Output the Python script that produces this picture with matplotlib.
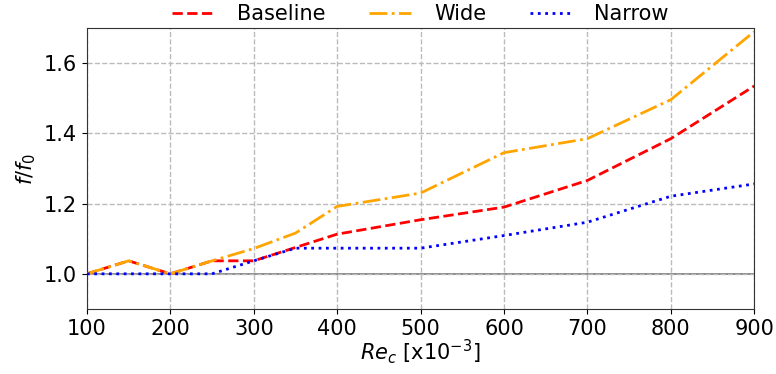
import matplotlib
matplotlib.use('Agg')
import matplotlib.pyplot as plt

plt.rcParams['font.family'] = ['DejaVu Sans']

# Data
re_c = [100, 150, 200, 250, 300, 350, 400, 500, 600, 700, 800, 900]
baseline = [1.0, 1.037, 1.0, 1.037, 1.037, 1.075, 1.113, 1.154, 1.19, 1.266, 1.385, 1.535]
wide = [1.0, 1.037, 1.0, 1.037, 1.072, 1.116, 1.192, 1.23, 1.345, 1.385, 1.496, 1.69]
narrow = [1.0, 1.0, 1.0, 1.0, 1.037, 1.073, 1.073, 1.073, 1.109, 1.147, 1.221, 1.256]

fig, ax = plt.subplots(figsize=(7.76, 3.74), dpi=100)

ax.axhline(1.0, color='gray', lw=1.3, zorder=1)
ax.plot(re_c, baseline, color='red', ls='--', lw=2, label='Baseline', zorder=3)
ax.plot(re_c, wide, color='orange', ls='-.', lw=2, label='Wide', zorder=3)
ax.plot(re_c, narrow, color='blue', ls=':', lw=2, label='Narrow', zorder=3)

ax.set_xlim(100, 900)
ax.set_ylim(0.9, 1.7)
ax.set_xticks(range(100, 901, 100))
ax.set_yticks([1.0, 1.2, 1.4, 1.6])
ax.grid(True, ls='--', color='#bbbbbb', lw=1)
ax.tick_params(labelsize=15)
for s in ax.spines.values():
    s.set_color('#333333')

ax.set_xlabel(r'$Re_c$ [x10$^{-3}$]', fontsize=15, labelpad=-1)
ax.set_ylabel(r'$f/f_0$', fontsize=15, labelpad=4)
ax.legend(loc='lower center', bbox_to_anchor=(0.5, 0.985), ncol=3, frameon=False,
          fontsize=15, handlelength=2.0, handletextpad=1.1, columnspacing=2.1,
          borderaxespad=0)

fig.subplots_adjust(left=0.112, right=0.972, top=0.925, bottom=0.174)
fig.savefig('out.png', dpi=100)
